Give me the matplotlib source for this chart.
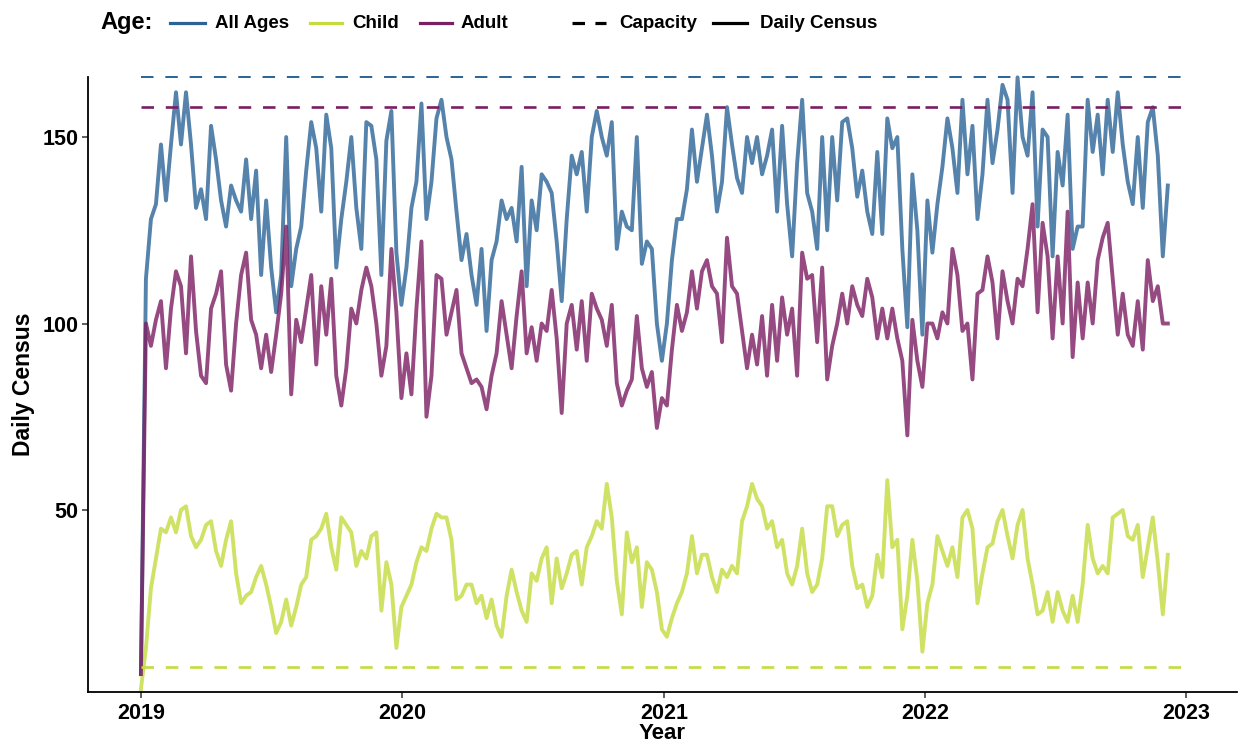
import matplotlib
matplotlib.use('Agg')
import matplotlib.pyplot as plt
from matplotlib.lines import Line2D
import pandas as pd

plt.rcParams['font.family'] = ['Liberation Sans', 'DejaVu Sans']
plt.rcParams['lines.scale_dashes'] = False

# weekly census readings, starting 2019-01-01
start = '2019-01-01'
all_ages = [6, 112, 128, 132, 148, 133, 148, 162, 148, 162, 148, 131, 136, 128, 153, 144, 133, 126, 137, 133,
            130, 144, 128, 141, 113, 133, 115, 103, 113, 150, 110, 120, 126, 141, 154, 147, 130, 156, 147, 115,
            128, 138, 150, 131, 120, 154, 153, 144, 113, 149, 157, 119, 105, 115, 131, 138, 159, 128, 138, 155,
            160, 150, 144, 130, 117, 124, 113, 105, 120, 98, 117, 122, 133, 128, 131, 122, 142, 110, 133, 125,
            140, 138, 135, 122, 106, 128, 145, 140, 146, 130, 150, 157, 150, 145, 154, 120, 130, 126, 125, 150,
            116, 122, 120, 100, 90, 100, 117, 128, 128, 136, 152, 138, 147, 156, 145, 130, 138, 158, 148, 139,
            135, 150, 143, 150, 140, 145, 152, 130, 153, 132, 118, 143, 160, 135, 130, 120, 150, 125, 150, 133,
            154, 155, 147, 134, 141, 130, 124, 146, 124, 155, 147, 150, 120, 99, 140, 125, 97, 133, 119, 132,
            142, 155, 147, 135, 160, 140, 153, 128, 140, 160, 143, 152, 164, 160, 135, 166, 150, 145, 162, 126,
            152, 150, 118, 146, 137, 156, 120, 126, 126, 160, 146, 156, 140, 160, 146, 162, 148, 138, 132, 150,
            131, 154, 158, 145, 118, 137]
child = [2, 13, 29, 37, 45, 44, 48, 44, 50, 51, 43, 40, 42, 46, 47, 39, 35, 42, 47, 33,
         25, 27, 28, 32, 35, 30, 24, 17, 20, 26, 19, 24, 30, 32, 42, 43, 45, 49, 40, 34,
         48, 46, 44, 35, 39, 37, 43, 44, 23, 36, 30, 13, 24, 27, 30, 36, 40, 39, 45, 49,
         48, 48, 42, 26, 27, 30, 30, 25, 27, 21, 26, 19, 16, 27, 34, 28, 23, 20, 33, 31,
         37, 40, 25, 37, 29, 33, 38, 39, 30, 40, 43, 47, 45, 57, 48, 31, 22, 44, 36, 40,
         24, 36, 34, 28, 18, 16, 21, 25, 28, 33, 43, 33, 38, 38, 32, 28, 34, 32, 35, 33,
         47, 51, 57, 53, 51, 45, 47, 40, 42, 33, 30, 35, 45, 33, 28, 30, 37, 51, 51, 43,
         46, 47, 35, 29, 30, 24, 27, 38, 32, 58, 40, 42, 18, 27, 42, 31, 12, 25, 30, 43,
         39, 35, 40, 32, 48, 50, 45, 25, 33, 40, 41, 47, 50, 43, 37, 46, 50, 37, 30, 22,
         23, 28, 20, 28, 23, 20, 27, 20, 30, 46, 37, 33, 35, 33, 48, 49, 50, 43, 42, 46,
         32, 40, 48, 36, 22, 38]
adult = [6, 100, 94, 101, 106, 88, 104, 114, 110, 92, 118, 98, 86, 84, 104, 108, 114, 89, 82, 100,
         113, 119, 101, 97, 88, 97, 87, 97, 108, 126, 81, 101, 95, 104, 113, 89, 110, 97, 112, 86,
         78, 88, 104, 100, 109, 115, 110, 100, 86, 94, 120, 103, 80, 92, 81, 104, 122, 75, 86, 113,
         112, 97, 103, 109, 92, 88, 84, 85, 83, 77, 86, 92, 106, 97, 88, 102, 114, 92, 99, 90,
         100, 98, 109, 96, 76, 100, 105, 93, 106, 90, 108, 104, 101, 94, 105, 84, 78, 82, 85, 102,
         88, 83, 87, 72, 80, 78, 93, 105, 98, 103, 114, 104, 114, 117, 110, 108, 95, 123, 110, 108,
         98, 88, 97, 89, 102, 86, 105, 90, 107, 97, 104, 86, 119, 112, 113, 95, 115, 85, 94, 100,
         108, 100, 110, 105, 102, 112, 107, 96, 104, 96, 104, 96, 90, 70, 101, 90, 83, 100, 100, 96,
         103, 100, 120, 113, 98, 100, 85, 108, 109, 118, 111, 96, 114, 106, 100, 112, 110, 120, 132, 103,
         127, 118, 96, 118, 100, 130, 91, 111, 96, 111, 100, 117, 123, 127, 112, 97, 108, 97, 94, 106,
         93, 117, 106, 110, 100, 100]

# yearly capacity
cap_years = [2019, 2020, 2021, 2022]
cap_all = [166, 166, 166, 166]
cap_child = [8, 8, 8, 8]
cap_adult = [158, 158, 158, 158]

age_labels = ['All Ages', 'Child', 'Adult']
age_colors = ['#2a6496', '#c5db3f', '#7b1e62']

dates = pd.date_range(start, periods=len(all_ages), freq='7D')

W, H = 1239, 746
fig = plt.figure(figsize=(W / 100, H / 100), dpi=100)
ax = fig.add_axes([0.071, 0.0724, 0.927, 0.8244])

for vals, col in zip([all_ages, child, adult], age_colors):
    ax.plot(dates, vals, color=col, lw=2.8, alpha=0.8, clip_on=False)

for caps, col, w in zip([cap_all, cap_child, cap_adult], age_colors, [1.4, 1.9, 1.9]):
    for yr, c in zip(cap_years, caps):
        ax.plot([pd.Timestamp(yr, 1, 1), pd.Timestamp(yr + 1, 1, 1)], [c, c],
                color=col, lw=w, dashes=(9, 8.5), clip_on=False)

ax.set_xlim(pd.Timestamp('2018-10-19'), pd.Timestamp('2023-03-12'))
ax.set_ylim(1.2, 166.1)
ax.set_xticks([pd.Timestamp(y, 1, 1) for y in range(2019, 2024)])
ax.set_xticklabels([str(y) for y in range(2019, 2024)])
ax.set_yticks([50, 100, 150])

for s in ['top', 'right']:
    ax.spines[s].set_visible(False)
for s in ['left', 'bottom']:
    ax.spines[s].set_linewidth(1.3)
ax.tick_params(length=4, width=1.1, color='#333333', labelsize=15.5)
ax.tick_params(axis='x', pad=4)
ax.tick_params(axis='y', pad=3)
for lab in ax.get_xticklabels() + ax.get_yticklabels():
    lab.set_fontweight('bold')
    lab.set_color('black')

ax.set_xlabel('Year', fontsize=16, fontweight='bold', labelpad=-1)
ax.set_ylabel('Daily Census', fontsize=16.5, fontweight='bold', labelpad=5)

# legend row across the top, placed in pixels
ly = 1 - 23 / H
fig.text(100 / W, ly, 'Age:', fontsize=17, fontweight='bold', va='center', ha='left')
key_spans = [(170, 205), (310, 342), (420, 452)]
text_x = [215, 352, 461]
for (x0, x1), tx, col, lab in zip(key_spans, text_x, age_colors, age_labels):
    fig.add_artist(Line2D([x0 / W, x1 / W], [ly, ly], transform=fig.transFigure, color=col, lw=2.3))
    fig.text(tx / W, ly, lab, fontsize=13.5, fontweight='bold', va='center', ha='left')

fig.add_artist(Line2D([572 / W, 606 / W], [ly, ly], transform=fig.transFigure, color='black',
                      lw=2.3, dashes=(9, 7.5)))
fig.text(619 / W, ly, 'Capacity', fontsize=13.5, fontweight='bold', va='center', ha='left')
fig.add_artist(Line2D([713 / W, 747 / W], [ly, ly], transform=fig.transFigure, color='black', lw=2.3))
fig.text(760 / W, ly, 'Daily Census', fontsize=13.5, fontweight='bold', va='center', ha='left')

fig.savefig('out.png', dpi=100)
